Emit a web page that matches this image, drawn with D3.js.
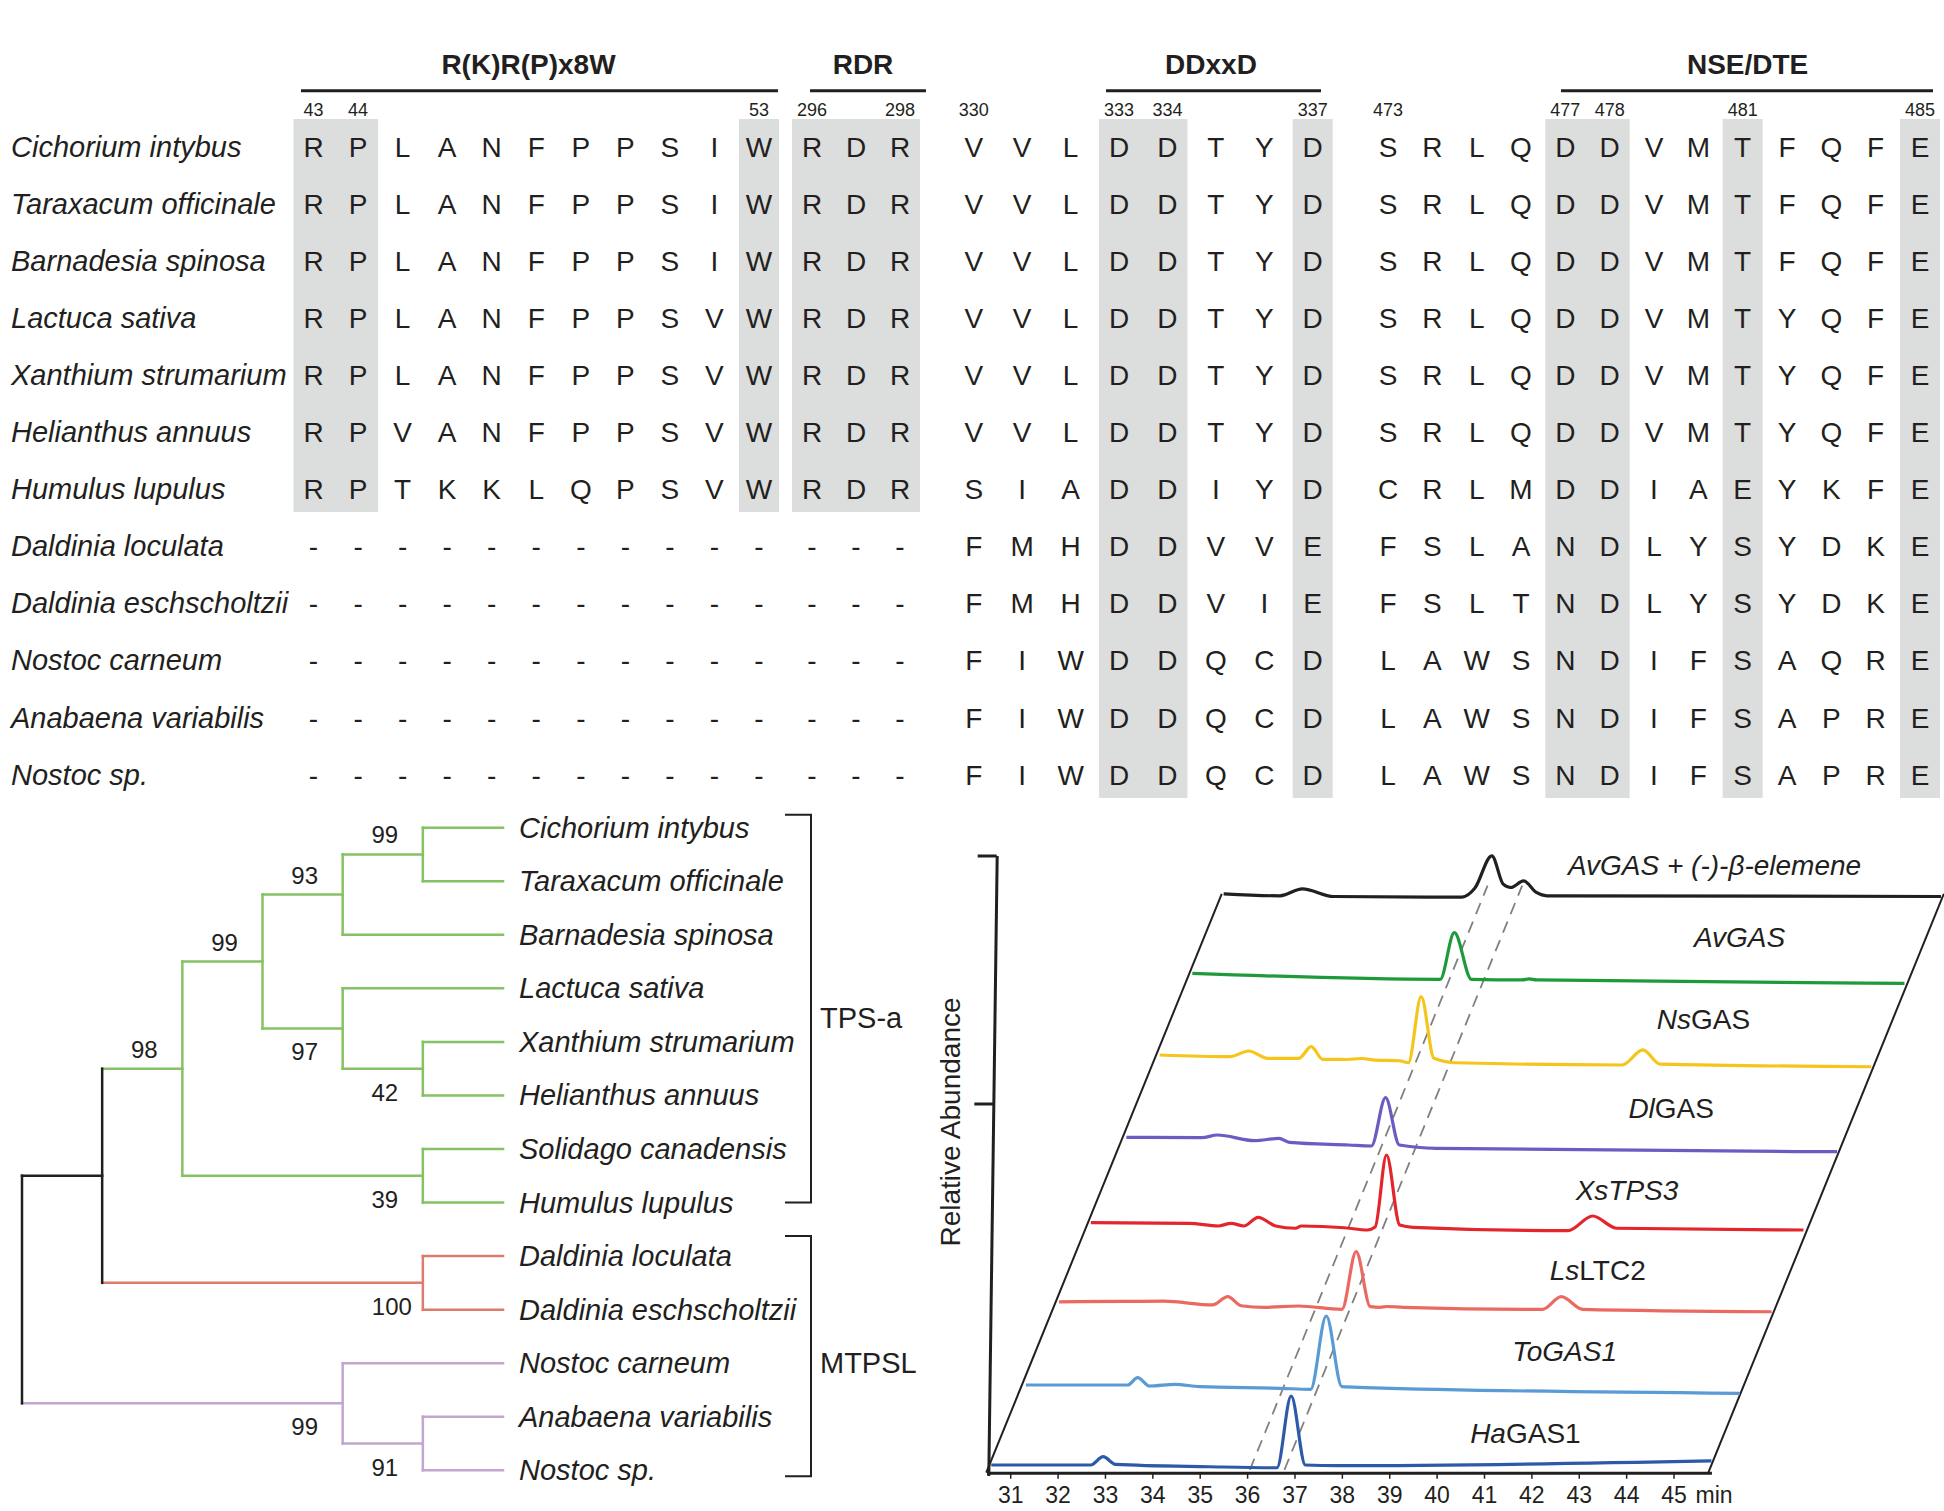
<!DOCTYPE html>
<html><head><meta charset="utf-8">
<script src="https://cdn.jsdelivr.net/npm/d3@7"></script>
<style>
html,body{margin:0;padding:0;background:#fff;}
svg{display:block;}
</style></head><body>
<svg id="fig" width="1944" height="1511"></svg>
<script>
// ================= DATA =================
const species = ["Cichorium intybus","Taraxacum officinale","Barnadesia spinosa","Lactuca sativa",
  "Xanthium strumarium","Helianthus annuus","Humulus lupulus","Daldinia loculata",
  "Daldinia eschscholtzii","Nostoc carneum","Anabaena variabilis","Nostoc sp."];
const motifTitles = ["R(K)R(P)x8W","RDR","DDxxD","NSE/DTE"];
const seqMotif1 = ["RPLANFPPSIW","RPLANFPPSIW","RPLANFPPSIW","RPLANFPPSVW","RPLANFPPSVW","RPVANFPPSVW",
  "RPTKKLQPSVW","-----------","-----------","-----------","-----------","-----------"];
const seqMotif2 = ["RDR","RDR","RDR","RDR","RDR","RDR","RDR","---","---","---","---","---"];
const seqMotif3 = ["VVLDDTYD","VVLDDTYD","VVLDDTYD","VVLDDTYD","VVLDDTYD","VVLDDTYD","SIADDIYD",
  "FMHDDVVE","FMHDDVIE","FIWDDQCD","FIWDDQCD","FIWDDQCD"];
const seqMotif4 = ["SRLQDDVMTFQFE","SRLQDDVMTFQFE","SRLQDDVMTFQFE","SRLQDDVMTYQFE","SRLQDDVMTYQFE",
  "SRLQDDVMTYQFE","CRLMDDIAEYKFE","FSLANDLYSYDKE","FSLTNDLYSYDKE","LAWSNDIFSAQRE","LAWSNDIFSAPRE","LAWSNDIFSAPRE"];
const posMotif1 = [[0,"43"],[1,"44"],[10,"53"]];
const posMotif2 = [[0,"296"],[2,"298"]];
const posMotif3 = [[0,"330"],[3,"333"],[4,"334"],[7,"337"]];
const posMotif4 = [[0,"473"],[4,"477"],[5,"478"],[8,"481"],[12,"485"]];
const shadeMotif1 = [0,1,10];
const shadeMotif2 = [0,1,2];
const shadeMotif3 = [3,4,7];
const shadeMotif4 = [4,5,8,12];

// phylogeny (bootstrap support on internal nodes, g = clade group of leaves)
const treeData = {children:[
  {children:[
    {support:98, children:[
      {support:99, children:[
        {support:93, children:[
          {support:99, children:[{name:"Cichorium intybus",g:"a"},{name:"Taraxacum officinale",g:"a"}]},
          {name:"Barnadesia spinosa",g:"a"}]},
        {support:97, children:[
          {name:"Lactuca sativa",g:"a"},
          {support:42, children:[{name:"Xanthium strumarium",g:"a"},{name:"Helianthus annuus",g:"a"}]}]}]},
      {support:39, children:[{name:"Solidago canadensis",g:"a"},{name:"Humulus lupulus",g:"a"}]}]},
    {support:100, children:[{name:"Daldinia loculata",g:"d"},{name:"Daldinia eschscholtzii",g:"d"}]}]},
  {support:99, children:[
    {name:"Nostoc carneum",g:"n"},
    {support:91, children:[{name:"Anabaena variabilis",g:"n"},{name:"Nostoc sp.",g:"n"}]}]}
]};
const cladeNames = ["TPS-a","MTPSL"];

// GC chromatograms: [retention time (min), relative abundance]
const xTicks = [31,32,33,34,35,36,37,38,39,40,41,42,43,44,45];
const haGAS1 = [[30.6,0],[32.7,0],[32.96,12],[33.22,1],[35.2,-2.5],[36.63,-4],[36.93,100],[37.23,0],[37.9,-1],[45.8,6]];
const toGAS1 = [[30.63,-2.3],[32.78,-2.3],[32.99,8.3],[33.24,-3.8],[33.78,-1.3],[34.3,-4.8],[36.0,-7.1],[36.64,-8.6],[36.97,97.7],[37.3,-4.8],[37.8,-6],[45.7,-14.4]];
const lsLTC2 = [[30.63,0],[32.0,0.5],[32.84,1],[33.87,-4.6],[34.19,7.4],[34.47,-5.7],[34.96,-8],[35.68,-6.1],[36.6,-10.9],[36.9,72.6],[37.2,-7.1],[37.4,-8],[37.55,-6.8],[37.9,-8],[40.83,-10.9],[41.23,7.4],[41.68,-10.9],[45.67,-14.4]];
const xsTPS3 = [[30.6,-3.6],[32.68,-4.5],[33.29,-8.4],[33.56,-4.5],[33.83,-8.4],[34.13,4.2],[34.5,-8.4],[34.92,-11.7],[35.04,-8.4],[35.95,-10.9],[36.44,-14.2],[36.6,-10],[36.84,94.5],[37.12,-7],[37.4,-10.3],[40.67,-15.2],[41.19,6.1],[41.7,-11.7],[45.64,-14.2]];
const dlGAS = [[30.65,1.9],[32.24,1.3],[32.57,5.2],[33.36,-3],[33.87,0.4],[34.09,-5.4],[35.34,-9.3],[35.82,-10.7],[36.12,59.3],[36.41,-9.3],[37.2,-14.1],[45.65,-19]];
const nsGAS = [[30.65,2.9],[32.13,0.4],[32.53,8.7],[32.93,-1.9],[33.59,-1.9],[33.85,14.9],[34.09,-3.3],[34.6,-3.6],[34.91,-2.2],[35.2,-4.4],[35.71,-5.4],[35.9,-8.3],[36.17,87.4],[36.44,-1.9],[36.9,-8.3],[40.41,-11.6],[40.85,10.2],[41.21,-10.2],[45.67,-14.1]];
const avGAS = [[30.64,3],[35.87,-5.7],[36.17,62],[36.53,-5.7],[37.6,-6.5],[37.75,-5],[37.9,-6.5],[45.67,-11.5]];
const avGASElemene = [[30.6,0],[31.79,-2.9],[32.26,7.2],[32.92,-3.9],[35.63,-4.8],[35.9,8],[36.26,55.1],[36.5,14],[36.66,9.1],[36.93,18.8],[37.2,2],[37.42,-2.9],[45.74,-3.9]];
const traceLabels = [
  [["Ha",true],["GAS1",false]],
  [["ToGAS1",true]],
  [["Ls",true],["LTC2",false]],
  [["XsTPS3",true]],
  [["Dl",true],["GAS",false]],
  [["Ns",true],["GAS",false]],
  [["AvGAS",true]],
  [["AvGAS + (-)-β-elemene",true]]
];
const traceSeries = [haGAS1,toGAS1,lsLTC2,xsTPS3,dlGAS,nsGAS,avGAS,avGASElemene];
const referenceTimes = [36.1, 36.83];
const yAxisTicks = [0.6, 1.0];

// ================= STYLE / LAYOUT =================
const INK = "#231f20";
const FONT = '"Liberation Sans", Arial, Helvetica, sans-serif';
const SHADE = "#dcdddd";
const cladeColor = {a:"#84c264", d:"#df7b6e", n:"#c3a6cf"};
const traceColors = ["#2c5aa8","#5a9bd6","#ea6a62","#e3262b","#6a5cc2","#f5c51c","#1f9a3b","#231f20"];
const labelNudge = [[-6,0],[0,0],[0,0],[-4,2],[7,1],[6,-6],[9,-6],[0,0]];

const svg = d3.select("#fig").attr("font-family", FONT);

// ================= ALIGNMENT =================
const rowY = d3.scalePoint().domain(d3.range(species.length)).range([150, 150 + 11 * 57.05]);
const BL = 7;
const gAl = svg.append("g");
gAl.selectAll("text.sp").data(species).join("text")
  .attr("x", 11).attr("y", (d, i) => rowY(i) + BL)
  .attr("font-size", 29).attr("font-style", "italic").attr("fill", INK).text(d => d);

const blocks = [
  {title:motifTitles[0], seqs:seqMotif1, pos:posMotif1, shade:shadeMotif1, first:313.5, last:759, lineX:[301,778], titleX:528.5, shadeBottom:512},
  {title:motifTitles[1], seqs:seqMotif2, pos:posMotif2, shade:shadeMotif2, first:812, last:900, lineX:[810,926], titleX:863, shadeBottom:512},
  {title:motifTitles[2], seqs:seqMotif3, pos:posMotif3, shade:shadeMotif3, first:973.8, last:1312.7, lineX:[1106,1321], titleX:1211, shadeBottom:798},
  {title:motifTitles[3], seqs:seqMotif4, pos:posMotif4, shade:shadeMotif4, first:1388, last:1920, lineX:[1561,1933], titleX:1747.6, shadeBottom:798}
];
blocks.forEach(b => {
  const n = b.seqs[0].length;
  const x = d3.scalePoint().domain(d3.range(n)).range([b.first, b.last]);
  const g = gAl.append("g");
  const runs = [];
  b.shade.forEach(c => { const r = runs[runs.length - 1]; if (r && r[1] === c - 1) r[1] = c; else runs.push([c, c]); });
  g.selectAll("rect").data(runs).join("rect")
    .attr("x", r => x(r[0]) - 20).attr("width", r => x(r[1]) - x(r[0]) + 40)
    .attr("y", 119).attr("height", b.shadeBottom - 119).attr("fill", SHADE);
  g.append("text").attr("x", b.titleX).attr("y", 74).attr("text-anchor", "middle")
    .attr("font-size", 28).attr("font-weight", "bold").attr("fill", INK).text(b.title);
  g.append("line").attr("x1", b.lineX[0]).attr("x2", b.lineX[1]).attr("y1", 90.7).attr("y2", 90.7)
    .attr("stroke", INK).attr("stroke-width", 3);
  g.selectAll("text.pos").data(b.pos).join("text").attr("class", "pos")
    .attr("x", d => x(d[0])).attr("y", 116).attr("text-anchor", "middle")
    .attr("font-size", 18).attr("fill", INK).text(d => d[1]);
  const cells = [];
  b.seqs.forEach((s, i) => s.split("").forEach((ch, c) => cells.push({i, c, ch})));
  g.selectAll("text.res").data(cells).join("text").attr("class", "res")
    .attr("x", d => x(d.c)).attr("y", d => rowY(d.i) + BL).attr("text-anchor", "middle")
    .attr("font-size", 28).attr("fill", INK).text(d => d.ch);
});

// ================= TREE =================
const root = d3.hierarchy(treeData);
d3.cluster().size([13 * 53.55, 6 * 80.17]).separation(() => 1)(root);
const TY = 800.9, TX = 22;
const PX = d => d.y + TX, PY = d => d.x + TY;
function nodeColor(d) {
  const gs = new Set(d.leaves().map(l => l.data.g));
  return gs.size === 1 ? cladeColor[[...gs][0]] : INK;
}
const gTree = svg.append("g");
gTree.selectAll("line.h").data(root.descendants().filter(d => d.parent)).join("line")
  .attr("x1", d => PX(d.parent)).attr("x2", d => PX(d)).attr("y1", d => PY(d)).attr("y2", d => PY(d))
  .attr("stroke", d => nodeColor(d)).attr("stroke-width", 2.5).attr("stroke-linecap", "square");
gTree.selectAll("line.v").data(root.descendants().filter(d => d.children)).join("line")
  .attr("x1", d => PX(d)).attr("x2", d => PX(d))
  .attr("y1", d => PY(d.children[0])).attr("y2", d => PY(d.children[d.children.length - 1]))
  .attr("stroke", d => nodeColor(d)).attr("stroke-width", 2.5).attr("stroke-linecap", "square");
gTree.selectAll("text.tip").data(root.leaves()).join("text")
  .attr("x", d => PX(d) + 16).attr("y", d => PY(d) + 10)
  .attr("font-size", 29).attr("font-style", "italic").attr("fill", INK).text(d => d.data.name);
gTree.selectAll("text.bs").data(root.descendants().filter(d => d.data.support != null)).join("text")
  .attr("x", d => PX(d) - 38 + (String(d.data.support).length - 2) * 7)
  .attr("y", d => d.parent.children[0] === d ? PY(d) - 11 : PY(d) + 32)
  .attr("text-anchor", "middle").attr("font-size", 24).attr("fill", INK).text(d => d.data.support);
const leaves = root.leaves();
const brackets = [
  {name:cladeNames[0], top:PY(leaves[0]) - 13, bottom:PY(leaves[7]), labelY:1028},
  {name:cladeNames[1], top:PY(leaves[8]) - 20, bottom:PY(leaves[12]) + 6, labelY:1373}
];
brackets.forEach(b => {
  gTree.append("path").attr("d", `M785,${b.top}H811V${b.bottom}H785`)
    .attr("fill", "none").attr("stroke", INK).attr("stroke-width", 2);
  gTree.append("text").attr("x", 820).attr("y", b.labelY).attr("font-size", 29).attr("fill", INK).text(b.name);
});

// ================= CHROMATOGRAMS =================
const xScale = d3.scaleLinear().domain([30.5, 45.8]).range([1010.2 - 0.5 * 47.38, 1010.2 + 14.8 * 47.38]);
const yAbund = d3.scaleLinear().domain([0, 100]).range([0, 69]);
const DXK = 33.2, DYK = 81.6, BASE0 = 1465;
const X = (t, k) => xScale(t) + k * DXK;
const Y = (a, k) => BASE0 - k * DYK - yAbund(a);
const gC = svg.append("g");

[30.56, 45.8].forEach(t => {
  gC.append("line").attr("x1", X(t, -0.094)).attr("y1", Y(0, -0.094)).attr("x2", X(t, 7.0)).attr("y2", Y(0, 7.0))
    .attr("stroke", INK).attr("stroke-width", 2);
});
const axisY = 1472.7;
const xAxis = gC.append("g").attr("transform", `translate(0,${axisY})`)
  .call(d3.axisBottom(xScale).tickValues(xTicks).tickSize(6).tickSizeOuter(0).tickPadding(8).tickFormat(d3.format("d")));
xAxis.attr("font-family", FONT).attr("font-size", 23);
xAxis.select(".domain").attr("stroke", INK).attr("stroke-width", 3);
xAxis.selectAll(".tick line").attr("stroke", INK).attr("stroke-width", 1.5);
xAxis.selectAll(".tick text").attr("fill", INK);
gC.append("text").attr("x", xScale(45) + 22).attr("y", axisY + 30).attr("font-size", 23).attr("fill", INK).text("min");

const yAxisScale = d3.scaleLinear().domain([0, 1]).range([0, -620]);
const yAxisG = gC.append("g").attr("transform", "translate(988.3,1475.6) skewX(-0.776)")
  .call(d3.axisLeft(yAxisScale).tickValues(yAxisTicks).tickSize(19).tickSizeOuter(0).tickFormat(""));
yAxisG.select(".domain").attr("stroke", INK).attr("stroke-width", 3);
yAxisG.selectAll(".tick line").attr("stroke", INK).attr("stroke-width", 3);
gC.append("text").attr("transform", "translate(960,1122) rotate(-90)").attr("text-anchor", "middle")
  .attr("font-size", 28).attr("fill", INK).text("Relative Abundance");

referenceTimes.forEach(t => {
  gC.append("line").attr("x1", X(t, -0.06)).attr("y1", Y(0, -0.06)).attr("x2", X(t, 7.1)).attr("y2", Y(0, 7.1))
    .attr("stroke", "#808080").attr("stroke-width", 1.8).attr("stroke-dasharray", "12,8");
});

traceSeries.forEach((series, k) => {
  const line = d3.line().x(d => X(d[0], k)).y(d => Y(d[1], k)).curve(d3.curveMonotoneX);
  gC.append("path").attr("d", line(series)).attr("fill", "none")
    .attr("stroke", traceColors[k]).attr("stroke-width", 3.2).attr("stroke-linejoin", "round");
  const top = k === 7;
  const t = gC.append("text")
    .attr("x", X(top ? 40.96 : 42.0, k) + labelNudge[k][0])
    .attr("y", Y(0, k) - (top ? 29 : 32) + 10 + labelNudge[k][1])
    .attr("text-anchor", "middle").attr("font-size", 28).attr("fill", INK);
  t.selectAll("tspan").data(traceLabels[k]).join("tspan")
    .attr("font-style", d => d[1] ? "italic" : "normal").text(d => d[0]);
});
</script>
</body></html>
